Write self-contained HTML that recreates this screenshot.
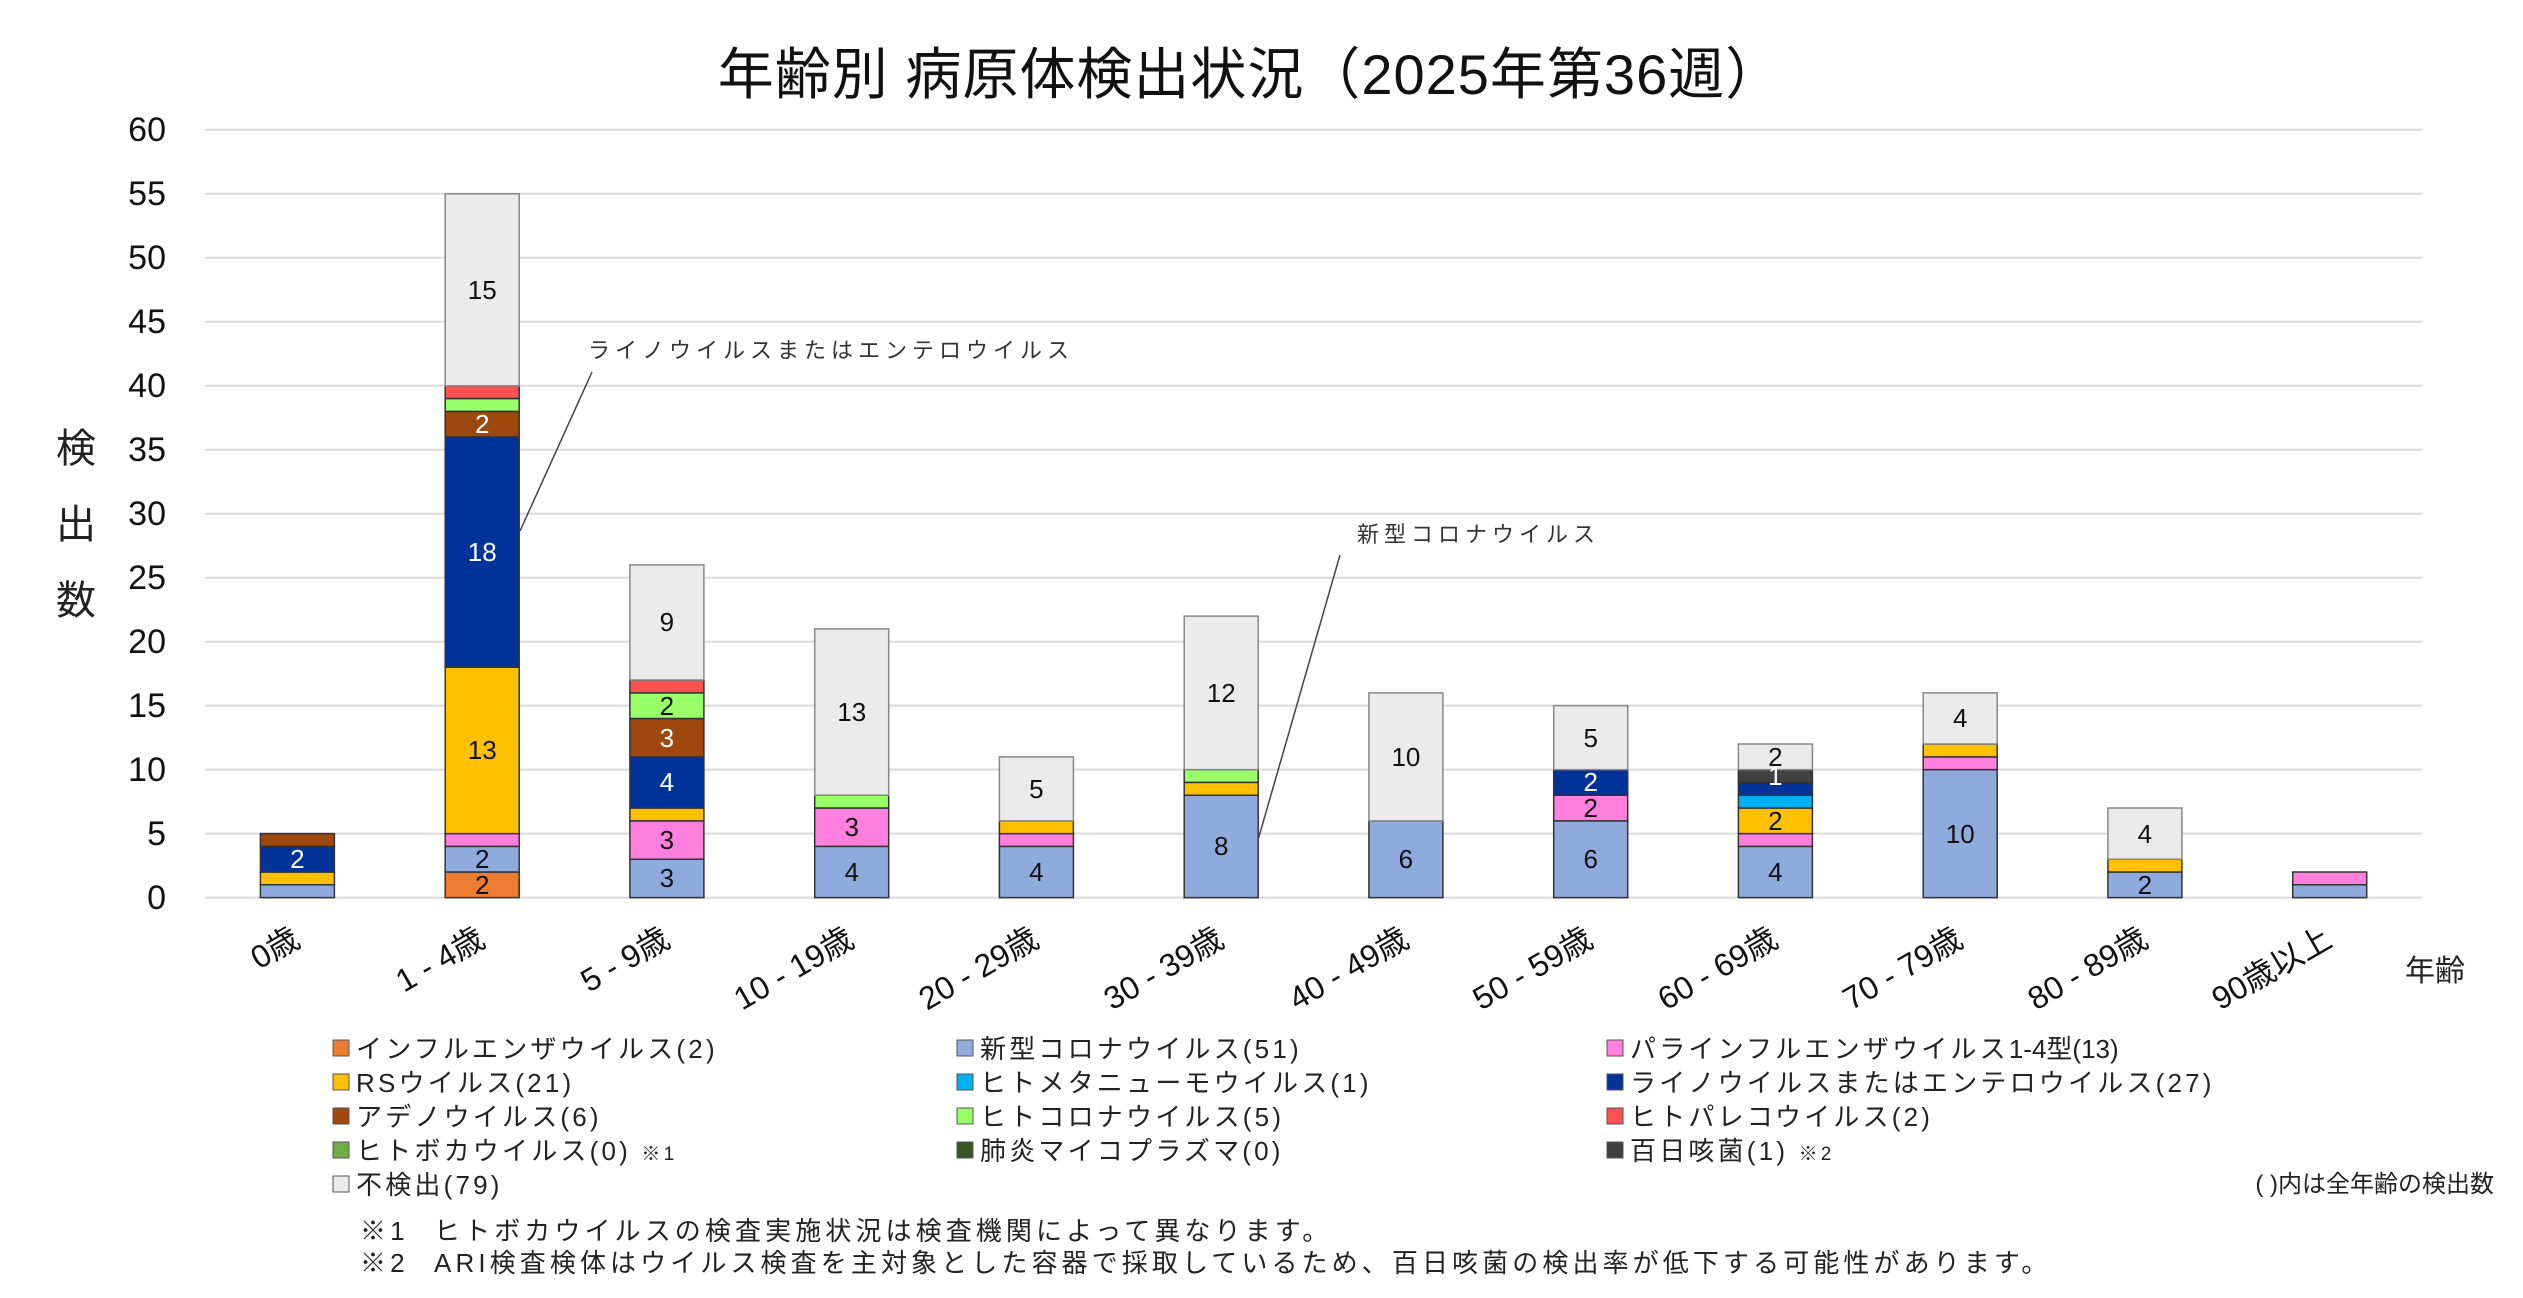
<!DOCTYPE html>
<html><head><meta charset="utf-8">
<style>
html,body{margin:0;padding:0;background:#fff;}
svg{display:block;}
text{font-family:"Liberation Sans","Noto Sans CJK JP",sans-serif;}
</style></head>
<body>
<svg width="2523" height="1298" viewBox="0 0 2523 1298" xmlns="http://www.w3.org/2000/svg">
<rect x="0" y="0" width="2523" height="1298" fill="#fff"/>
<text x="1250" y="94" font-size="56" letter-spacing="1" text-anchor="middle" fill="#111">年齢別 病原体検出状況（2025年第36週）</text>

<!-- grid -->
<g stroke="#D9D9D9" stroke-width="2">
<line x1="205" x2="2422" y1="897.6" y2="897.6"/>
<line x1="205" x2="2422" y1="833.6" y2="833.6"/>
<line x1="205" x2="2422" y1="769.6" y2="769.6"/>
<line x1="205" x2="2422" y1="705.6" y2="705.6"/>
<line x1="205" x2="2422" y1="641.7" y2="641.7"/>
<line x1="205" x2="2422" y1="577.7" y2="577.7"/>
<line x1="205" x2="2422" y1="513.7" y2="513.7"/>
<line x1="205" x2="2422" y1="449.7" y2="449.7"/>
<line x1="205" x2="2422" y1="385.7" y2="385.7"/>
<line x1="205" x2="2422" y1="321.7" y2="321.7"/>
<line x1="205" x2="2422" y1="257.7" y2="257.7"/>
<line x1="205" x2="2422" y1="193.8" y2="193.8"/>
<line x1="205" x2="2422" y1="129.8" y2="129.8"/>
</g>
<g font-size="34" fill="#111" text-anchor="end">
<text x="166" y="909">0</text>
<text x="166" y="845">5</text>
<text x="166" y="781">10</text>
<text x="166" y="717">15</text>
<text x="166" y="653">20</text>
<text x="166" y="589">25</text>
<text x="166" y="525">30</text>
<text x="166" y="461">35</text>
<text x="166" y="397">40</text>
<text x="166" y="333">45</text>
<text x="166" y="269">50</text>
<text x="166" y="205">55</text>
<text x="166" y="141">60</text>
</g>
<g font-size="40" fill="#222" text-anchor="middle">
<text x="76" y="462">検</text>
<text x="76" y="538">出</text>
<text x="76" y="614">数</text>
</g>

<!-- bars -->
<g transform="translate(0,897.6) scale(1,-12.797)" stroke="#333" stroke-width="1.5">
<rect vector-effect="non-scaling-stroke" x="260.4" y="0" width="74" height="1" fill="#8FAADC"/>
<rect vector-effect="non-scaling-stroke" x="260.4" y="1" width="74" height="1" fill="#FFC000"/>
<rect vector-effect="non-scaling-stroke" x="260.4" y="2" width="74" height="2" fill="#003399"/>
<rect vector-effect="non-scaling-stroke" x="260.4" y="4" width="74" height="1" fill="#9E480E"/>
<rect vector-effect="non-scaling-stroke" x="445.2" y="0" width="74" height="2" fill="#ED7D31"/>
<rect vector-effect="non-scaling-stroke" x="445.2" y="2" width="74" height="2" fill="#8FAADC"/>
<rect vector-effect="non-scaling-stroke" x="445.2" y="4" width="74" height="1" fill="#FF7FDF"/>
<rect vector-effect="non-scaling-stroke" x="445.2" y="5" width="74" height="13" fill="#FFC000"/>
<rect vector-effect="non-scaling-stroke" x="445.2" y="18" width="74" height="18" fill="#003399"/>
<rect vector-effect="non-scaling-stroke" x="445.2" y="36" width="74" height="2" fill="#9E480E"/>
<rect vector-effect="non-scaling-stroke" x="445.2" y="38" width="74" height="1" fill="#99FF66"/>
<rect vector-effect="non-scaling-stroke" x="445.2" y="39" width="74" height="1" fill="#FF5050"/>
<rect vector-effect="non-scaling-stroke" x="445.2" y="40" width="74" height="15" fill="#EBEBEB" stroke="#888"/>
<rect vector-effect="non-scaling-stroke" x="629.9" y="0" width="74" height="3" fill="#8FAADC"/>
<rect vector-effect="non-scaling-stroke" x="629.9" y="3" width="74" height="3" fill="#FF7FDF"/>
<rect vector-effect="non-scaling-stroke" x="629.9" y="6" width="74" height="1" fill="#FFC000"/>
<rect vector-effect="non-scaling-stroke" x="629.9" y="7" width="74" height="4" fill="#003399"/>
<rect vector-effect="non-scaling-stroke" x="629.9" y="11" width="74" height="3" fill="#9E480E"/>
<rect vector-effect="non-scaling-stroke" x="629.9" y="14" width="74" height="2" fill="#99FF66"/>
<rect vector-effect="non-scaling-stroke" x="629.9" y="16" width="74" height="1" fill="#FF5050"/>
<rect vector-effect="non-scaling-stroke" x="629.9" y="17" width="74" height="9" fill="#EBEBEB" stroke="#888"/>
<rect vector-effect="non-scaling-stroke" x="814.7" y="0" width="74" height="4" fill="#8FAADC"/>
<rect vector-effect="non-scaling-stroke" x="814.7" y="4" width="74" height="3" fill="#FF7FDF"/>
<rect vector-effect="non-scaling-stroke" x="814.7" y="7" width="74" height="1" fill="#99FF66"/>
<rect vector-effect="non-scaling-stroke" x="814.7" y="8" width="74" height="13" fill="#EBEBEB" stroke="#888"/>
<rect vector-effect="non-scaling-stroke" x="999.4" y="0" width="74" height="4" fill="#8FAADC"/>
<rect vector-effect="non-scaling-stroke" x="999.4" y="4" width="74" height="1" fill="#FF7FDF"/>
<rect vector-effect="non-scaling-stroke" x="999.4" y="5" width="74" height="1" fill="#FFC000"/>
<rect vector-effect="non-scaling-stroke" x="999.4" y="6" width="74" height="5" fill="#EBEBEB" stroke="#888"/>
<rect vector-effect="non-scaling-stroke" x="1184.2" y="0" width="74" height="8" fill="#8FAADC"/>
<rect vector-effect="non-scaling-stroke" x="1184.2" y="8" width="74" height="1" fill="#FFC000"/>
<rect vector-effect="non-scaling-stroke" x="1184.2" y="9" width="74" height="1" fill="#99FF66"/>
<rect vector-effect="non-scaling-stroke" x="1184.2" y="10" width="74" height="12" fill="#EBEBEB" stroke="#888"/>
<rect vector-effect="non-scaling-stroke" x="1368.9" y="0" width="74" height="6" fill="#8FAADC"/>
<rect vector-effect="non-scaling-stroke" x="1368.9" y="6" width="74" height="10" fill="#EBEBEB" stroke="#888"/>
<rect vector-effect="non-scaling-stroke" x="1553.7" y="0" width="74" height="6" fill="#8FAADC"/>
<rect vector-effect="non-scaling-stroke" x="1553.7" y="6" width="74" height="2" fill="#FF7FDF"/>
<rect vector-effect="non-scaling-stroke" x="1553.7" y="8" width="74" height="2" fill="#003399"/>
<rect vector-effect="non-scaling-stroke" x="1553.7" y="10" width="74" height="5" fill="#EBEBEB" stroke="#888"/>
<rect vector-effect="non-scaling-stroke" x="1738.4" y="0" width="74" height="4" fill="#8FAADC"/>
<rect vector-effect="non-scaling-stroke" x="1738.4" y="4" width="74" height="1" fill="#FF7FDF"/>
<rect vector-effect="non-scaling-stroke" x="1738.4" y="5" width="74" height="2" fill="#FFC000"/>
<rect vector-effect="non-scaling-stroke" x="1738.4" y="7" width="74" height="1" fill="#00B0F0"/>
<rect vector-effect="non-scaling-stroke" x="1738.4" y="8" width="74" height="1" fill="#003399"/>
<rect vector-effect="non-scaling-stroke" x="1738.4" y="9" width="74" height="1" fill="#404040"/>
<rect vector-effect="non-scaling-stroke" x="1738.4" y="10" width="74" height="2" fill="#EBEBEB" stroke="#888"/>
<rect vector-effect="non-scaling-stroke" x="1923.2" y="0" width="74" height="10" fill="#8FAADC"/>
<rect vector-effect="non-scaling-stroke" x="1923.2" y="10" width="74" height="1" fill="#FF7FDF"/>
<rect vector-effect="non-scaling-stroke" x="1923.2" y="11" width="74" height="1" fill="#FFC000"/>
<rect vector-effect="non-scaling-stroke" x="1923.2" y="12" width="74" height="4" fill="#EBEBEB" stroke="#888"/>
<rect vector-effect="non-scaling-stroke" x="2107.9" y="0" width="74" height="2" fill="#8FAADC"/>
<rect vector-effect="non-scaling-stroke" x="2107.9" y="2" width="74" height="1" fill="#FFC000"/>
<rect vector-effect="non-scaling-stroke" x="2107.9" y="3" width="74" height="4" fill="#EBEBEB" stroke="#888"/>
<rect vector-effect="non-scaling-stroke" x="2292.7" y="0" width="74" height="1" fill="#8FAADC"/>
<rect vector-effect="non-scaling-stroke" x="2292.7" y="1" width="74" height="1" fill="#FF7FDF"/>
</g>

<!-- segment labels -->
<g font-size="26" text-anchor="middle" fill="#111">
<text x="297.4" y="868" fill="#fff">2</text>
<text x="482.2" y="894">2</text>
<text x="482.2" y="868">2</text>
<text x="482.2" y="759">13</text>
<text x="482.2" y="561" fill="#fff">18</text>
<text x="482.2" y="433" fill="#fff">2</text>
<text x="482.2" y="299">15</text>
<text x="666.9" y="887">3</text>
<text x="666.9" y="849">3</text>
<text x="666.9" y="791" fill="#fff">4</text>
<text x="666.9" y="747" fill="#fff">3</text>
<text x="666.9" y="715">2</text>
<text x="666.9" y="631">9</text>
<text x="851.7" y="881">4</text>
<text x="851.7" y="836">3</text>
<text x="851.7" y="721">13</text>
<text x="1036.4" y="881">4</text>
<text x="1036.4" y="798">5</text>
<text x="1221.2" y="855">8</text>
<text x="1221.2" y="702">12</text>
<text x="1405.9" y="868">6</text>
<text x="1405.9" y="766">10</text>
<text x="1590.7" y="868">6</text>
<text x="1590.7" y="817">2</text>
<text x="1590.7" y="791" fill="#fff">2</text>
<text x="1590.7" y="747">5</text>
<text x="1775.4" y="881">4</text>
<text x="1775.4" y="830">2</text>
<text x="1775.4" y="785" fill="#fff">1</text>
<text x="1775.4" y="766">2</text>
<text x="1960.2" y="843">10</text>
<text x="1960.2" y="727">4</text>
<text x="2144.9" y="894">2</text>
<text x="2144.9" y="843">4</text>
</g>

<!-- annotations -->
<line x1="520" y1="531" x2="592" y2="372" stroke="#444" stroke-width="1.5"/>
<text x="588" y="358" font-size="22" fill="#333" letter-spacing="5">ライノウイルスまたはエンテロウイルス</text>
<line x1="1258" y1="840" x2="1340" y2="555" stroke="#444" stroke-width="1.5"/>
<text x="1357" y="542" font-size="22" fill="#333" letter-spacing="5">新型コロナウイルス</text>

<!-- x labels -->
<g font-size="32" fill="#111" text-anchor="end">
<text transform="translate(302,945) rotate(-30)">0歳</text>
<text transform="translate(487,945) rotate(-30)">1 - 4歳</text>
<text transform="translate(672,945) rotate(-30)">5 - 9歳</text>
<text transform="translate(856,945) rotate(-30)">10 - 19歳</text>
<text transform="translate(1041,945) rotate(-30)">20 - 29歳</text>
<text transform="translate(1226,945) rotate(-30)">30 - 39歳</text>
<text transform="translate(1411,945) rotate(-30)">40 - 49歳</text>
<text transform="translate(1595,945) rotate(-30)">50 - 59歳</text>
<text transform="translate(1780,945) rotate(-30)">60 - 69歳</text>
<text transform="translate(1965,945) rotate(-30)">70 - 79歳</text>
<text transform="translate(2150,945) rotate(-30)">80 - 89歳</text>
<text transform="translate(2334,945) rotate(-30)">90歳以上</text>
</g>
<text x="2405" y="981" font-size="30" fill="#222">年齢</text>

<!-- legend -->
<g stroke="#555" stroke-width="1">
<rect x="333" y="1040" width="16" height="16" fill="#ED7D31"/>
<rect x="333" y="1074" width="16" height="16" fill="#FFC000"/>
<rect x="333" y="1108" width="16" height="16" fill="#9E480E"/>
<rect x="333" y="1142" width="16" height="16" fill="#70AD47"/>
<rect x="333" y="1176" width="16" height="16" fill="#EBEBEB"/>
<rect x="957" y="1040" width="16" height="16" fill="#8FAADC"/>
<rect x="957" y="1074" width="16" height="16" fill="#00B0F0"/>
<rect x="957" y="1108" width="16" height="16" fill="#99FF66"/>
<rect x="957" y="1142" width="16" height="16" fill="#375623"/>
<rect x="1607" y="1040" width="16" height="16" fill="#FF7FDF"/>
<rect x="1607" y="1074" width="16" height="16" fill="#003399"/>
<rect x="1607" y="1108" width="16" height="16" fill="#FF5050"/>
<rect x="1607" y="1142" width="16" height="16" fill="#404040"/>
</g>
<g font-size="26" fill="#222" letter-spacing="3.2">
<text x="356" y="1058">インフルエンザウイルス(2)</text>
<text x="356" y="1092">RSウイルス(21)</text>
<text x="356" y="1126">アデノウイルス(6)</text>
<text x="356" y="1160">ヒトボカウイルス(0) <tspan font-size="19">※1</tspan></text>
<text x="356" y="1194">不検出(79)</text>
<text x="980" y="1058">新型コロナウイルス(51)</text>
<text x="980" y="1092">ヒトメタニューモウイルス(1)</text>
<text x="980" y="1126">ヒトコロナウイルス(5)</text>
<text x="980" y="1160">肺炎マイコプラズマ(0)</text>
<text x="1630" y="1058">パラインフルエンザウイルス<tspan letter-spacing="0">1-4型(13)</tspan></text>
<text x="1630" y="1092">ライノウイルスまたはエンテロウイルス(27)</text>
<text x="1630" y="1126">ヒトパレコウイルス(2)</text>
<text x="1630" y="1160">百日咳菌(1) <tspan font-size="19">※2</tspan></text>
</g>
<text x="2494" y="1192" font-size="24" fill="#222" text-anchor="end">( )内は全年齢の検出数</text>
<g font-size="26" fill="#222" letter-spacing="4.1">
<text x="360" y="1240">※1</text>
<text x="434" y="1240">ヒトボカウイルスの検査実施状況は検査機関によって異なります。</text>
<text x="360" y="1272">※2</text>
<text x="434" y="1272">ARI検査検体はウイルス検査を主対象とした容器で採取しているため、百日咳菌の検出率が低下する可能性があります。</text>
</g>
</svg>
</body></html>
